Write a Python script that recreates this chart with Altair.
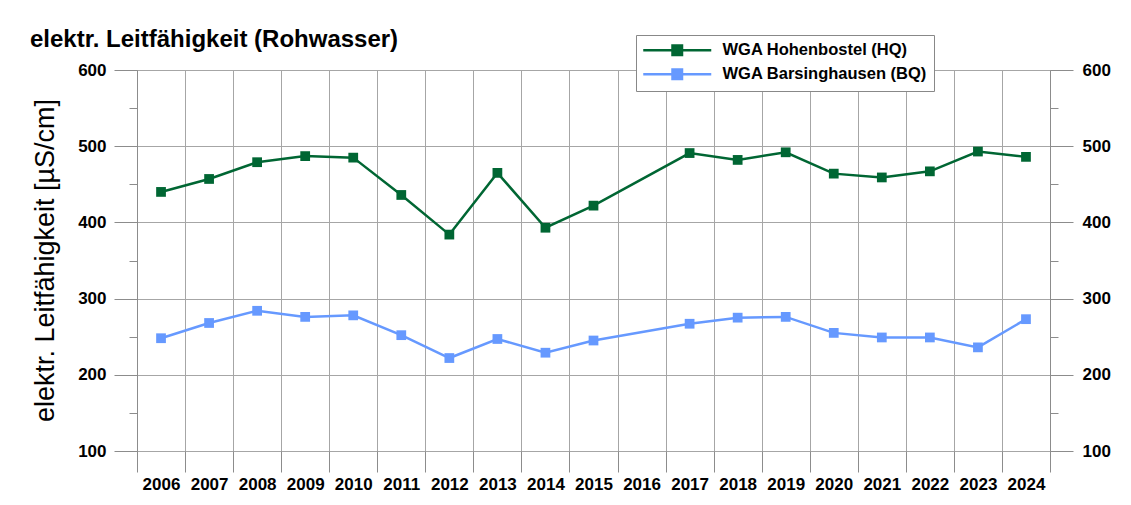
import altair as alt
import pandas as pd

years = [str(y) for y in range(2006, 2025)]
meas_years = ["2006", "2007", "2008", "2009", "2010", "2011", "2012", "2013", "2014", "2015",
              "2017", "2018", "2019", "2020", "2021", "2022", "2023", "2024"]
hq_values = [440, 457, 479, 487, 485, 436, 384, 465, 393, 422,
             491, 482, 492, 464, 459, 467, 493, 486]
bq_values = [248, 268, 284, 276, 278, 252, 222, 247, 229, 245,
             267, 275, 276, 255, 249, 249, 236, 273]
series = ["WGA Hohenbostel (HQ)", "WGA Barsinghausen (BQ)"]
colors = ["#006633", "#6699ff"]
major_ticks = [100, 200, 300, 400, 500, 600]
minor_ticks = [150, 250, 350, 450, 550]

rows = []
for y, v in zip(meas_years, hq_values):
    rows.append({"year": y, "value": v, "series": series[0]})
for y, v in zip(meas_years, bq_values):
    rows.append({"year": y, "value": v, "series": series[1]})
df = pd.DataFrame(rows)

FONT = "Liberation Sans"
GRID = "#a6a6a6"
TICK = "#8c8c8c"

x_enc = alt.X(
    "year:O",
    scale=alt.Scale(type="band", domain=years, paddingInner=0, paddingOuter=0),
    axis=alt.Axis(title=None, labelAngle=0, tickBand="extent", tickSize=21,
                  tickColor=TICK, grid=True, gridColor=GRID, domain=False,
                  labelFont=FONT, labelFontSize=17, labelFontWeight="bold",
                  labelColor="#000000", labelPadding=4),
)
y_scale = alt.Scale(domain=[100, 600], nice=False, zero=False)

legend = alt.Legend(
    title=None, orient="none", legendX=499, legendY=-35,
    symbolType="M-6.8,0H6.8M-0.95,-0.95H0.95V0.95H-0.95Z",
    symbolSize=100, symbolStrokeWidth=2.5, symbolOffset=26,
    labelFont=FONT, labelFontSize=16.5, labelFontWeight="bold", labelColor="#000000",
    labelOffset=37, labelLimit=400, rowPadding=4, padding=7,
    strokeColor="#888888", fillColor="#ffffff",
)
color_enc = alt.Color("series:N", scale=alt.Scale(domain=series, range=colors),
                      sort=series, legend=legend)


def yax(orient, values, size, labels, grid, title=None):
    kw = dict(orient=orient, values=values, tickSize=size, tickColor=TICK,
              domainColor=TICK, grid=grid, gridColor=GRID, labels=labels,
              labelFont=FONT, labelFontSize=17, labelFontWeight="bold",
              labelColor="#000000", labelPadding=8 if orient == "left" else 9)
    if title is not None:
        kw.update(title=title, titleFont=FONT, titleFontSize=27, titleFontWeight="normal",
                  titleColor="#000000", titleX=-92, titleY=190, titleBaseline="middle",
                  titleAngle=270)
    else:
        kw.update(title=None)
    return alt.Axis(**kw)


base = alt.Chart(df)

lines = base.mark_line(strokeWidth=2.5).encode(
    x=x_enc,
    y=alt.Y("value:Q", scale=y_scale,
            axis=yax("left", major_ticks, 23, True, True, "elektr. Leitfähigkeit [µS/cm]")),
    color=color_enc,
)
points = base.mark_point(shape="square", filled=True, size=95, opacity=1).encode(
    x=x_enc,
    y=alt.Y("value:Q", scale=y_scale, axis=yax("right", major_ticks, 23, True, False)),
    color=color_enc,
)
minor_left = base.mark_point(opacity=0).encode(
    x=x_enc,
    y=alt.Y("value:Q", scale=y_scale, axis=yax("left", minor_ticks, 8, False, False)),
)
minor_right = base.mark_point(opacity=0).encode(
    x=x_enc,
    y=alt.Y("value:Q", scale=y_scale, axis=yax("right", minor_ticks, 8, False, False)),
)

chart = alt.layer(lines, points, minor_left, minor_right).resolve_scale(
    y="shared"
).resolve_axis(y="independent").properties(
    width=913, height=381,
    autosize=alt.AutoSizeParams(type="none"),
    padding={"left": 129, "top": 62, "right": 66, "bottom": 44},
    title=alt.TitleParams("elektr. Leitfähigkeit (Rohwasser)", anchor="start",
                          frame="group", font=FONT, fontSize=24, fontWeight="bold",
                          color="#000000", dx=-107, dy=60, offset=24, baseline="alphabetic"),
).configure_view(strokeWidth=0).configure(background="#ffffff")

chart.save("out.html", embed_options={"renderer": "svg", "actions": False})
